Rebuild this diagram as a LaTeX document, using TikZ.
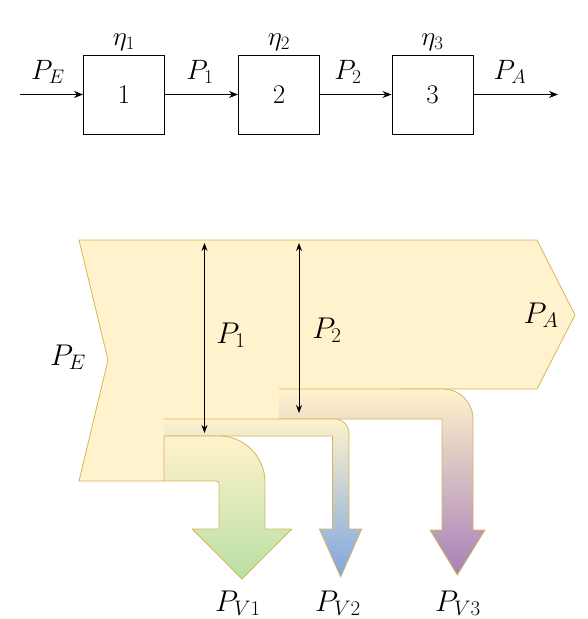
\documentclass[tikz,border=0pt]{standalone}
\usepackage{fix-cm}
\usetikzlibrary{arrows.meta}
\definecolor{fy}{HTML}{FFF2CC}
\definecolor{sy}{HTML}{D6B656}
\definecolor{gg}{HTML}{B9E0A5}
\definecolor{gb}{HTML}{7EA6E0}
\definecolor{gp}{HTML}{A680B8}
\begin{document}
\begin{tikzpicture}[x=1pt,y=-1pt,
  blk/.style={draw=black,line width=1pt,minimum width=81pt,minimum height=79pt,inner sep=0pt,font=\fontsize{27}{30}\selectfont},
  lbl/.style={inner sep=0pt,font=\fontsize{28}{32}\selectfont},
  eta/.style={inner sep=0pt,font=\fontsize{27}{30}\selectfont},
  blbl/.style={inner sep=0pt,anchor=base,font=\fontsize{30}{34}\selectfont},
  flow/.style={-{Stealth[length=9pt,width=7pt]},line width=0.9pt,black},
  dim/.style={{Stealth[length=8pt,width=6pt]}-{Stealth[length=8pt,width=6pt]},line width=0.9pt,black},
  band/.style={draw=sy,line width=0.8pt,line join=miter},
  edge/.style={draw=sy,line width=0.8pt,line join=miter}
]
\useasboundingbox (0,0) rectangle (588,619);

% ---------- top block diagram ----------
\node[blk] (b1) at (124,94.5) {$1$};
\node[blk] (b2) at (279,94.5) {$2$};
\node[blk] (b3) at (432.5,94.5) {$3$};
\coordinate (in) at (20,94.5);
\coordinate (out) at (558,94.5);
\draw[flow] (in) -- (b1.west);
\draw[flow] (b1.east) -- (b2.west);
\draw[flow] (b2.east) -- (b3.west);
\draw[flow] (b3.east) -- (out);
\node[eta] (e1) at (124,42) {$\eta_1$};
\node[eta] (e2) at (279,42) {$\eta_2$};
\node[eta] (e3) at (432.5,42) {$\eta_3$};
\node[lbl] (te) at (48,72) {$P_E$};
\node[lbl] (t1) at (200,72) {$P_1$};
\node[lbl] (t2) at (348,72) {$P_2$};
\node[lbl] (ta) at (510,72) {$P_A$};

% ---------- Sankey-like diagram ----------
% main flow
\path[fill=fy] (79,240) -- (537,240) -- (575,315) -- (537,389) -- (279,389)
  -- (279,419) -- (164,419) -- (164,481) -- (79,481) -- (108,360) -- cycle;
\path[edge] (164,481) -- (79,481) -- (108,360) -- (79,240) -- (537,240)
  -- (575,315) -- (537,389) -- (398,389);

% branch 3 (purple)
\path[top color=fy,bottom color=gp]
  (279,389) -- (443,389) .. controls (459.6,389) and (473,402.4) .. (473,419)
  -- (473,530) -- (485,530) -- (457.3,575) -- (430,530) -- (442,530)
  -- (442,419) -- (279,419) -- cycle;
\path[edge]
  (279,389) -- (443,389) .. controls (459.6,389) and (473,402.4) .. (473,419)
  -- (473,530) -- (485,530) -- (457.3,575) -- (430,530) -- (442,530)
  -- (442,419) -- (279,419);

% branch 2 (blue)
\path[top color=fy,bottom color=gb]
  (164,419) -- (334.5,419) .. controls (342.5,419) and (349,425.5) .. (349,433.5)
  -- (349,529) -- (361.7,529) -- (340.7,577) -- (319.3,529) -- (332.5,529)
  -- (332.5,436) -- (164,436) -- cycle;
\path[edge]
  (164,419) -- (334.5,419) .. controls (342.5,419) and (349,425.5) .. (349,433.5)
  -- (349,529) -- (361.7,529) -- (340.7,577) -- (319.3,529) -- (332.5,529)
  -- (332.5,436) -- (164,436);

% branch 1 (green)
\path[band,top color=fy,bottom color=gg]
  (164,436) -- (219,436) .. controls (244.4,436) and (265,456.6) .. (265,482)
  -- (265,529) -- (291.7,529) -- (242,579) -- (192.3,529) -- (219,529)
  -- (219,484) .. controls (219,482.3) and (217.7,481) .. (216,481)
  -- (164,481) -- cycle;

% dimension arrows
\coordinate (a1t) at (204.5,243);
\coordinate (a1b) at (204.5,433);
\coordinate (a2t) at (299,243);
\coordinate (a2b) at (299,413);
\draw[dim] (a1t) -- (a1b);
\draw[dim] (a2t) -- (a2b);

\node[lbl,font=\fontsize{30}{34}\selectfont] (le) at (68,357) {$P_E$};
\node[lbl,font=\fontsize{30}{34}\selectfont] (l1) at (231,335) {$P_1$};
\node[lbl,font=\fontsize{30}{34}\selectfont] (l2) at (327,330) {$P_2$};
\node[lbl,font=\fontsize{30}{34}\selectfont] (la) at (541,315) {$P_A$};
\node[blbl] (v1) at (238,611) {$P_{V1}$};
\node[blbl] (v2) at (338,611) {$P_{V2}$};
\node[blbl] (v3) at (458,611) {$P_{V3}$};
\end{tikzpicture}
\end{document}
